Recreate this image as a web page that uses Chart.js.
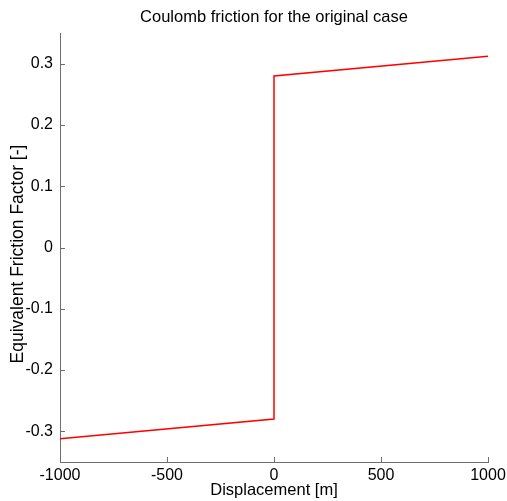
<!DOCTYPE html>
<html>
<head>
<meta charset="utf-8">
<script src="https://cdn.jsdelivr.net/npm/chart.js@4/dist/chart.umd.min.js"></script>
<style>
  html, body { margin: 0; padding: 0; background: #fff; }
  #wrap { width: 507px; height: 501px; position: relative; }
</style>
</head>
<body>
<div id="wrap"><canvas id="c"></canvas></div>
<script>
// Data
const displacement = [-1000, 0, 0, 0, 1000];
const frictionFactor = [-0.312, -0.28, 0, 0.28, 0.312];
const xTicks = [-1000, -500, 0, 500, 1000];
const yTicks = [-0.3, -0.2, -0.1, 0, 0.1, 0.2, 0.3];

const titleText = 'Coulomb friction for the original case';
const xLabel = 'Displacement [m]';
const yLabel = 'Equivalent Friction Factor [-]';

const AXIS_COLOR = '#6e6e6e';
const FONT = '"Liberation Sans", Arial, sans-serif';

// Draws title, axis labels and inward (MATLAB style) tick marks
const decorations = {
    id: 'decorations',
    afterDraw(chart) {
        const ctx = chart.ctx;
        const area = chart.chartArea;
        const xs = chart.scales.x;
        const ys = chart.scales.y;
        const cx = (area.left + area.right) / 2;

        ctx.save();
        ctx.strokeStyle = AXIS_COLOR;
        ctx.lineWidth = 1;
        ctx.beginPath();
        xs.ticks.forEach(t => {
            const px = Math.round(xs.getPixelForValue(t.value)) + 0.5;
            ctx.moveTo(px, area.bottom);
            ctx.lineTo(px, area.bottom - 5);
        });
        ys.ticks.forEach(t => {
            const py = Math.round(ys.getPixelForValue(t.value)) + 0.5;
            ctx.moveTo(area.left, py);
            ctx.lineTo(area.left + 5, py);
        });
        ctx.stroke();

        ctx.fillStyle = '#000';
        ctx.textAlign = 'center';
        ctx.textBaseline = 'middle';
        ctx.font = '16.5px ' + FONT;
        ctx.fillText(titleText, cx, 17);

        ctx.font = '16.5px ' + FONT;
        ctx.fillText(xLabel, cx, 490);

        ctx.translate(18, 254);
        ctx.rotate(-Math.PI / 2);
        ctx.font = '17.5px ' + FONT;
        ctx.fillText(yLabel, 0, 0);
        ctx.restore();
    }
};

new Chart(document.getElementById('c'), {
    type: 'scatter',
    data: {
        datasets: [{
            data: displacement.map((x, i) => ({ x: x, y: frictionFactor[i] })),
            showLine: true,
            borderColor: '#ff0000',
            borderWidth: 1.5,
            pointRadius: 0,
            fill: false,
            tension: 0
        }]
    },
    options: {
        responsive: true,
        maintainAspectRatio: false,
        animation: false,
        layout: { padding: { top: 33, right: 19, bottom: 0, left: 0 } },
        plugins: {
            legend: { display: false },
            title: { display: false },
            tooltip: { enabled: false }
        },
        scales: {
            x: {
                type: 'linear',
                min: -1000,
                max: 1000,
                afterFit: s => {
                    s.height = 39;
                    // keep the plot box fixed, labels may overhang
                    s.paddingLeft = 0;
                    s.paddingRight = 0;
                },
                afterBuildTicks: s => { s.ticks = xTicks.map(v => ({ value: v })); },
                grid: { drawOnChartArea: false, drawTicks: false },
                border: { color: AXIS_COLOR, width: 1 },
                ticks: {
                    color: '#000',
                    padding: 4,
                    maxRotation: 0,
                    font: { family: FONT, size: 16 },
                    callback: v => String(v)
                }
            },
            y: {
                type: 'linear',
                min: -0.35,
                max: 0.35,
                afterFit: s => { s.width = 60; },
                afterBuildTicks: s => { s.ticks = yTicks.map(v => ({ value: v })); },
                grid: { drawOnChartArea: false, drawTicks: false },
                border: { color: AXIS_COLOR, width: 1 },
                ticks: {
                    color: '#000',
                    padding: 7,
                    font: { family: FONT, size: 16 },
                    callback: v => String(Math.round(v * 10) / 10)
                }
            }
        }
    },
    plugins: [decorations]
});
</script>
</body>
</html>
